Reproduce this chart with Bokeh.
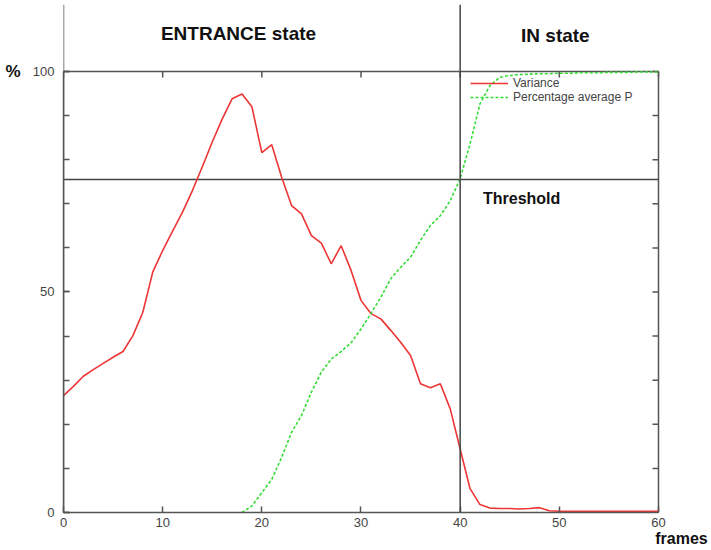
import math
from bokeh.plotting import figure
from bokeh.models import Range1d, LinearAxis, FixedTicker, Span, Label, Legend, LegendItem
from bokeh.embed import file_html
from bokeh.resources import INLINE

# ---------------- data ----------------
FRAMES = list(range(0, 61))
VARIANCE = [26.5, 28.6, 30.9, 32.4, 33.8, 35.2, 36.5, 40.1, 45.4, 54.5,
            59.4, 63.8, 68.1, 73.0, 78.4, 84.0, 89.2, 93.8, 94.9, 92.0,
            81.6, 83.4, 76.0, 69.6, 67.7, 62.8, 61.1, 56.4, 60.5, 54.9,
            48.1, 45.1, 43.9, 41.3, 38.6, 35.6, 29.2, 28.3, 29.2, 23.5,
            14.4, 5.4, 1.8, 1.0, 0.9, 0.9, 0.8, 0.9, 1.1, 0.4,
            0.3, 0.3, 0.3, 0.3, 0.3, 0.3, 0.3, 0.3, 0.3, 0.3, 0.3]
FRAMES_P = list(range(18, 61))
PERCENT_P = [0.0, 1.5, 4.5, 7.5, 12.5, 18.2, 22.0, 27.3, 31.8, 34.8,
             36.5, 38.5, 41.6, 45.1, 48.8, 53.0, 55.6, 57.9, 61.7, 65.1,
             67.3, 70.7, 75.7, 83.6, 92.7, 96.8, 98.7, 99.1, 99.3, 99.4,
             99.5, 99.5, 99.6, 99.6, 99.7, 99.7, 99.7, 99.8, 99.8, 99.8,
             99.9, 99.9, 99.9]
THRESHOLD = 75.5
STATE_CHANGE = 40
XTICKS = [0, 10, 20, 30, 40, 50, 60]
YTICKS_LABELLED = [0, 50, 100]
YTICKS_ALL = [0, 10, 20, 30, 40, 50, 60, 70, 80, 90, 100]
SERIES_NAMES = ["Variance", "Percentage average P"]
STATE_NAMES = ["ENTRANCE state", "IN state"]

FONT = "Liberation Sans"
AXIS_COLOR = "#555555"
TEXT_COLOR = "#444444"
XMAX = 60
YMAX = 100
XRIGHT = 62.32   # room for the "frames" label
YTOP = 115.19    # room for the state header

p = figure(width=710, height=550,
           x_range=Range1d(0, XRIGHT), y_range=Range1d(0, YTOP),
           output_backend="svg", toolbar_location=None,
           x_axis_location=None, y_axis_location=None,
           min_border_left=63, min_border_right=29,
           min_border_top=4, min_border_bottom=38)
p.outline_line_color = None
p.grid.visible = False
p.background_fill_color = "white"
p.border_fill_color = "white"

common = dict(axis_line_color=AXIS_COLOR, axis_line_width=1.5,
              major_tick_line_color=AXIS_COLOR, major_tick_line_width=1.5,
              minor_tick_line_color=AXIS_COLOR, minor_tick_line_width=1.5,
              major_tick_out=0, minor_tick_out=0,
              major_label_text_font=FONT, major_label_text_font_size="13px",
              major_label_text_color=TEXT_COLOR,
              axis_label_text_font=FONT, axis_label_text_font_style="bold",
              axis_label_text_color="#111111")

xaxis = LinearAxis(ticker=FixedTicker(ticks=XTICKS), bounds=(0, XMAX),
                   major_tick_in=6, minor_tick_in=0, major_label_standoff=5,
                   axis_label="frames", axis_label_text_font_size="16px",
                   axis_label_standoff=0, axis_label_align="end", **common)
p.add_layout(xaxis, "below")

yaxis = LinearAxis(ticker=FixedTicker(ticks=YTICKS_LABELLED, minor_ticks=YTICKS_ALL),
                   bounds=(0, YMAX), major_tick_in=6, minor_tick_in=6,
                   major_label_standoff=9, **common)
p.add_layout(yaxis, "left")

# "%" unit marker beside the top of the y axis
unit_axis = LinearAxis(ticker=FixedTicker(ticks=[YMAX], minor_ticks=[]),
                       major_label_overrides={YMAX: "%"},
                       axis_line_color=None, major_tick_line_color=None,
                       minor_tick_line_color=None, major_tick_in=0, major_tick_out=0,
                       major_label_standoff=9, major_label_text_font=FONT,
                       major_label_text_font_size="17px", major_label_text_font_style="bold",
                       major_label_text_color="#111111")
p.add_layout(unit_axis, "left")

# left axis line continues up through the state header
p.add_layout(Span(location=0, dimension="height", line_color=AXIS_COLOR, line_width=1.5))
# top and right sides of the plot box, with inward ticks
p.segment(x0=[0], y0=[YMAX], x1=[XMAX], y1=[YMAX], line_color=AXIS_COLOR, line_width=1.5)
p.segment(x0=[XMAX], y0=[0], x1=[XMAX], y1=[YMAX], line_color=AXIS_COLOR, line_width=1.5)
p.ray(x=XTICKS, y=[YMAX] * len(XTICKS), length=6, length_units="screen",
      angle=-math.pi / 2, line_color=AXIS_COLOR, line_width=1.5)
p.ray(x=[XMAX] * len(YTICKS_ALL), y=YTICKS_ALL, length=6, length_units="screen",
      angle=math.pi, line_color=AXIS_COLOR, line_width=1.5)

# threshold and state boundary
p.segment(x0=[0], y0=[THRESHOLD], x1=[XMAX], y1=[THRESHOLD], line_color=TEXT_COLOR, line_width=1.5)
p.add_layout(Span(location=STATE_CHANGE, dimension="height", line_color=TEXT_COLOR, line_width=1.5))

r1 = p.line(FRAMES, VARIANCE, line_color="#ee3535", line_width=1.6)
r2 = p.line(FRAMES_P, PERCENT_P, line_color="#33dd33", line_width=1.6, line_dash="3 2")

legend = Legend(items=[LegendItem(label=SERIES_NAMES[0], renderers=[r1]),
                       LegendItem(label=SERIES_NAMES[1], renderers=[r2])],
                location=(405, 406), background_fill_alpha=0, border_line_alpha=0,
                padding=2, spacing=0, margin=0, label_height=14, glyph_height=14,
                glyph_width=38, label_standoff=5,
                label_text_font=FONT, label_text_font_size="12px",
                label_text_color=TEXT_COLOR)
p.add_layout(legend)

def lbl(x, y, text, size, align="center"):
    p.add_layout(Label(x=x, y=y, text=text, text_align=align, text_baseline="middle",
                       text_font=FONT, text_font_size=size, text_font_style="bold",
                       text_color="#111111"))

lbl(17.65, 108.6, STATE_NAMES[0], "19px")
lbl(49.6, 108.2, STATE_NAMES[1], "19px")
lbl(42.3, 71.2, "Threshold", "16px", align="left")

open("out.html", "w").write(file_html(p, INLINE))
